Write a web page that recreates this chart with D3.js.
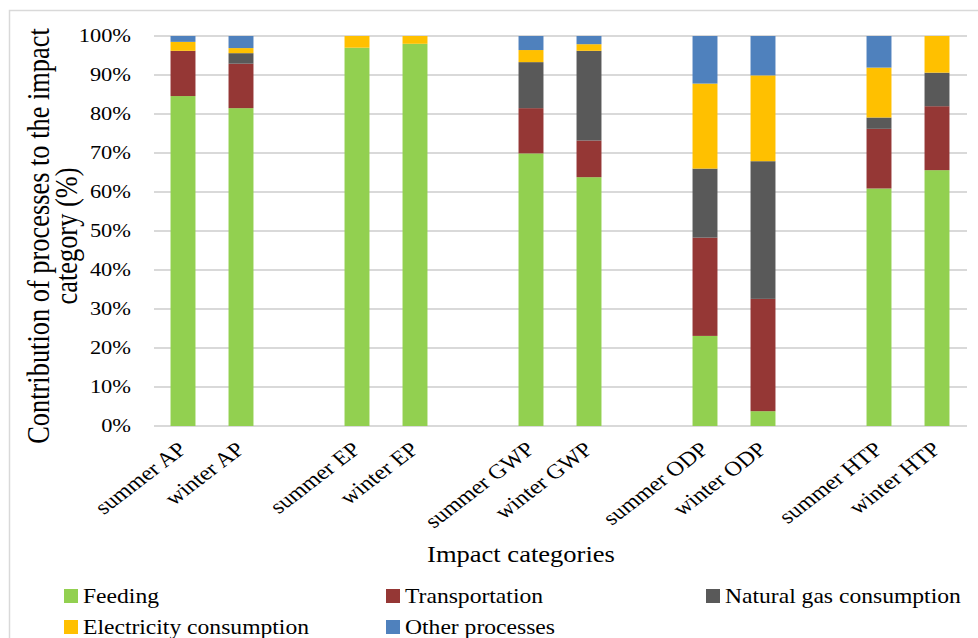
<!DOCTYPE html>
<html>
<head>
<meta charset="utf-8">
<script src="https://cdn.jsdelivr.net/npm/d3@7/dist/d3.min.js"></script>
<style>
  html, body { margin: 0; padding: 0; background: #ffffff; }
  svg { display: block; }
  text { font-family: "Liberation Serif", "Times New Roman", serif; fill: #000; }
</style>
</head>
<body>
<svg id="chart" width="978" height="638"></svg>
<script>
// Share of each process in every impact category (%)
const categories = ["summer AP", "winter AP", "summer EP", "winter EP", "summer GWP",
                    "winter GWP", "summer ODP", "winter ODP", "summer HTP", "winter HTP"];
const feeding        = [84.6, 81.5, 97.0, 98.0, 69.9, 63.8, 23.1,  3.8, 60.9, 65.6];
const transportation = [11.6, 11.4,  0.0,  0.0, 11.6,  9.4, 25.2, 28.8, 15.3, 16.4];
const naturalGas     = [ 0.0,  2.7,  0.0,  0.0, 11.8, 23.0, 17.7, 35.3,  2.9,  8.6];
const electricity    = [ 2.3,  1.3,  3.0,  2.0,  3.1,  1.7, 21.8, 22.0, 12.8,  9.4];
const otherProcesses = [ 1.5,  3.1,  0.0,  0.0,  3.6,  2.1, 12.2, 10.1,  8.1,  0.0];

const seriesNames = ["Feeding", "Transportation", "Natural gas consumption",
                     "Electricity consumption", "Other processes"];
const seriesColors = ["#92d050", "#953735", "#595959", "#ffc000", "#4f81bd"];
const yTicks = [0, 10, 20, 30, 40, 50, 60, 70, 80, 90, 100];

// Build table rows for d3.stack
const seriesValues = [feeding, transportation, naturalGas, electricity, otherProcesses];
const rows = categories.map((c, i) => {
  const r = { category: c };
  seriesNames.forEach((s, k) => { r[s] = seriesValues[k][i]; });
  return r;
});

// Slots along the x axis: each impact category pair is followed by an empty slot
const slots = [];
categories.forEach((c, i) => {
  slots.push(c);
  if (i % 2 === 1 && i < categories.length - 1) slots.push("gap" + i);
});

const svg = d3.select("#chart");
const SX = 1.18; // horizontal text stretch

// Outer frame
svg.append("rect")
  .attr("x", 9.5).attr("y", 10.5)
  .attr("width", 1000).attr("height", 700)
  .attr("fill", "none").attr("stroke", "#d9d9d9").attr("stroke-width", 1.5);

const plot = { left: 154, right: 966, top: 36, bottom: 426 };

const x = d3.scaleBand()
  .domain(slots)
  .range([plot.left, plot.right])
  .paddingInner(0.57)
  .paddingOuter(0.285);

const y = d3.scaleLinear()
  .domain([0, 100])
  .range([plot.bottom, plot.top]);

// Gridlines
svg.append("g")
  .selectAll("line")
  .data(yTicks)
  .join("line")
  .attr("x1", plot.left).attr("x2", plot.right + 1)
  .attr("y1", d => y(d)).attr("y2", d => y(d))
  .attr("stroke", "#d9d9d9").attr("stroke-width", 2);

// Y tick labels
svg.append("g")
  .selectAll("text")
  .data(yTicks)
  .join("text")
  .attr("transform", d => `translate(131,${y(d)}) scale(${SX},1)`)
  .attr("text-anchor", "end")
  .attr("dy", "0.34em")
  .style("font-size", "19px")
  .text(d => d + "%");

// Stacked bars
const stack = d3.stack().keys(seriesNames);
const stacked = stack(rows);

svg.append("g")
  .selectAll("g")
  .data(stacked)
  .join("g")
  .attr("fill", (d, i) => seriesColors[i])
  .selectAll("rect")
  .data(d => d)
  .join("rect")
  .attr("x", d => x(d.data.category))
  .attr("width", x.bandwidth())
  .attr("y", d => y(d[1]))
  .attr("height", d => Math.max(0, y(d[0]) - y(d[1])));

// X tick labels (rotated)
svg.append("g")
  .selectAll("text")
  .data(categories)
  .join("text")
  .attr("transform", d => `translate(${x(d) + x.bandwidth() / 2 + 5},${plot.bottom + 25}) scale(${SX},1) rotate(-42)`)
  .attr("text-anchor", "end")
  .style("font-size", "20.5px")
  .text(d => d);

// Axis titles
svg.append("text")
  .attr("transform", `translate(521,562) scale(${SX},1)`)
  .attr("text-anchor", "middle")
  .style("font-size", "22.5px")
  .text("Impact categories");

const yTitle = ["Contribution of processes to the impact", "category (%)"];
svg.append("g")
  .selectAll("text")
  .data(yTitle)
  .join("text")
  .attr("transform", (d, i) => `translate(${49 + i * 28},236) scale(${SX},1) rotate(-90)`)
  .attr("text-anchor", "middle")
  .style("font-size", "26.4px")
  .text(d => d);

// Legend
const legendPos = [
  { x: 83, y: 603 }, { x: 405, y: 603 }, { x: 725, y: 603 },
  { x: 83, y: 634 }, { x: 405, y: 634 }
];
const legend = svg.append("g")
  .selectAll("g")
  .data(seriesNames)
  .join("g");
legend.append("rect")
  .attr("x", (d, i) => legendPos[i].x - 19)
  .attr("y", (d, i) => legendPos[i].y - 14)
  .attr("width", 14).attr("height", 14)
  .attr("fill", (d, i) => seriesColors[i]);
legend.append("text")
  .attr("transform", (d, i) => `translate(${legendPos[i].x},${legendPos[i].y}) scale(${SX},1)`)
  .style("font-size", "20px")
  .text(d => d);
</script>
</body>
</html>
